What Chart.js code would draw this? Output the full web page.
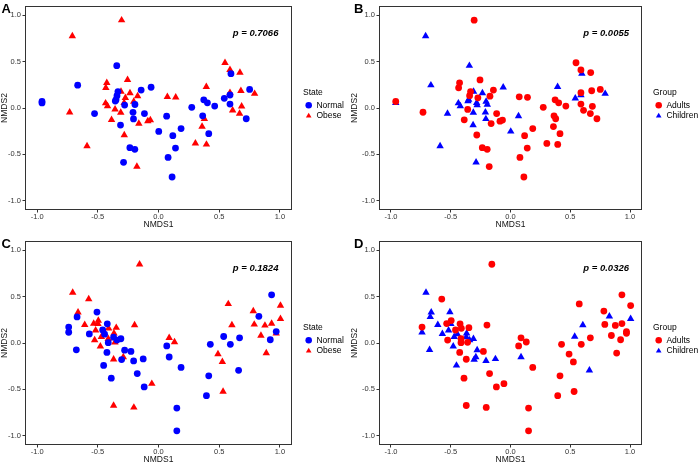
<!DOCTYPE html>
<html><head><meta charset="utf-8">
<script src="https://cdn.jsdelivr.net/npm/chart.js@4.4.1/dist/chart.umd.min.js"></script>
<style>
html,body{margin:0;padding:0;background:#fff;overflow:hidden;width:700px;height:464px;position:relative;}
canvas{position:absolute;}
</style></head><body>
<canvas id="cA" width="350" height="232" style="left:0;top:0"></canvas>
<canvas id="cB" width="350" height="232" style="left:350px;top:0"></canvas>
<canvas id="cC" width="350" height="232" style="left:0;top:235px"></canvas>
<canvas id="cD" width="350" height="232" style="left:350px;top:235px"></canvas>
<script>
// ---- Data: panels A/B share sample coordinates; C/D share sample coordinates ----
const nmds1_AB = [-0.96,-0.96,-0.666,-0.527,-0.344,-0.334,-0.342,-0.35,-0.356,-0.279,-0.313,-0.288,-0.236,-0.195,-0.21,-0.206,-0.194,-0.143,-0.061,-0.116,0.002,0.067,0.079,0.118,0.14,0.186,0.112,0.274,0.373,0.364,0.403,0.414,0.463,0.542,0.589,0.589,0.597,0.751,0.723,
  -0.71,-0.304,-0.732,-0.589,-0.426,-0.434,-0.436,-0.42,-0.358,-0.387,-0.309,-0.311,-0.255,-0.273,-0.283,-0.235,-0.204,-0.172,-0.282,-0.162,-0.088,-0.067,-0.178,0.073,0.142,0.304,0.394,0.378,0.359,0.395,0.548,0.589,0.671,0.679,0.589,0.611,0.685,0.668,0.792];
const nmds2_AB = [0.07,0.055,0.246,-0.06,0.456,0.177,0.133,0.09,0.075,0.032,-0.184,-0.586,-0.428,-0.446,-0.047,-0.118,0.038,0.193,0.224,-0.06,-0.253,-0.088,-0.533,-0.298,-0.432,-0.222,-0.744,0.007,0.088,-0.084,0.056,-0.277,0.021,0.104,0.14,0.042,0.37,0.2,-0.116,
  0.775,0.947,-0.046,-0.41,0.272,0.218,0.052,0.02,-0.015,-0.128,0.178,-0.05,0.303,0.11,0.055,0.16,0.07,0.128,-0.291,-0.168,-0.142,-0.13,-0.632,0.12,0.115,-0.382,0.228,-0.116,-0.2,-0.393,0.488,0.411,0.382,0.186,0.165,-0.025,0.018,-0.06,0.154];
const state_AB = 'NNNNNNNNNNNNNNNNNNNNNNNNNNNNNNNNNNNNNNN'.split('').concat('OOOOOOOOOOOOOOOOOOOOOOOOOOOOOOOOOOOOOOO'.split(''));
const group_AB = 'ACCCCAACCCCCAACCCACACCAAAAAAAAAAACCACAA'.split('').concat('CAACAACCAACCAACCCAAAAAAAAACAAAAAAAAAAAC'.split(''));

const nmds1_CD = [-0.74,-0.74,-0.671,-0.677,-0.507,-0.57,-0.422,-0.46,-0.444,-0.414,-0.425,-0.452,-0.389,-0.37,-0.342,-0.31,-0.304,-0.279,-0.227,-0.205,-0.175,-0.126,-0.118,0.068,0.088,0.186,0.151,0.151,0.395,0.414,0.427,0.537,0.592,0.668,0.66,0.827,0.932,0.921,0.97,
  -0.707,-0.663,-0.575,-0.608,-0.534,-0.496,-0.499,-0.518,-0.526,-0.479,-0.471,-0.411,-0.414,-0.348,-0.367,-0.359,-0.37,-0.29,-0.197,-0.156,-0.055,0.088,0.132,-0.37,-0.203,0.49,0.526,0.532,0.575,0.605,0.781,0.789,0.844,0.877,0.932,0.888,0.97,1.005,1.005];
const nmds2_CD = [0.172,0.116,0.281,-0.074,0.333,0.098,0.207,0.14,0.095,0.004,-0.102,-0.242,-0.379,0.063,0.032,0.046,-0.179,-0.077,-0.091,-0.193,-0.33,-0.172,-0.474,-0.032,-0.151,-0.263,-0.702,-0.947,-0.568,-0.354,-0.014,0.07,-0.014,0.056,-0.295,0.288,0.519,0.035,0.123,
  0.544,0.33,0.474,0.196,0.21,0.242,0.207,0.137,0.032,-0.035,0.067,0.158,0.046,0.165,0.105,0.007,-0.175,-0.151,0.193,0.849,-0.439,0.056,0.011,-0.674,-0.695,-0.119,-0.204,-0.523,0.421,0.193,0.344,0.2,0.081,0.189,0.21,-0.109,0.105,0.404,0.26];
const state_CD = 'NNNNNNNNNNNNNNNNNNNNNNNNNNNNNNNNNNNNNNN'.split('').concat('OOOOOOOOOOOOOOOOOOOOOOOOOOOOOOOOOOOOOOO'.split(''));
const group_CD = 'ACCCCCAACAACACCCCCACACAACAAAAAACAACCAAA'.split('').concat('CCACAACCACCAAACAACAAAAAAAAAAACAAAAAAAAC'.split(''));

const stateLevels = [{code:'N', label:'Normal'}, {code:'O', label:'Obese'}];
const groupLevels = [{code:'A', label:'Adults'}, {code:'C', label:'Children'}];
const tickValues = [-1, -0.5, 0, 0.5, 1];
const pValues = ['0.7066', '0.0055', '0.1824', '0.0326'];
const panelLetters = ['A', 'B', 'C', 'D'];

const FONT = "'Liberation Sans', Arial, Helvetica, sans-serif";
const BLUE = '#0000FF', RED = '#FF0000';

const decor = {
  id: 'decor',
  afterDraw(chart, args, o) {
    const {ctx, chartArea: a, scales: {x, y}} = chart;
    ctx.save();
    ctx.strokeStyle = '#333'; ctx.lineWidth = 1;
    const l = Math.round(a.left) + 0.5, t = Math.round(a.top) + 0.5;
    const r = Math.round(a.right) - 0.5, b = Math.round(a.bottom) - 0.5;
    ctx.strokeRect(l, t, r - l, b - t);
    ctx.fillStyle = '#000';
    ctx.font = 'italic bold 9.5px ' + FONT;
    ctx.textAlign = 'center'; ctx.textBaseline = 'middle';
    ctx.fillText('p = ' + o.p, x.getPixelForValue(0.8), y.getPixelForValue(0.8));
    ctx.font = 'bold 13px ' + FONT;
    ctx.textAlign = 'left'; ctx.textBaseline = 'alphabetic';
    ctx.fillText(o.letter, o.lx, 12.5);
    ctx.restore();
  }
};

function makeChart(id, xs, ys, codes, levels, styles, legendTitle, pIdx, yWidth, lx) {
  const datasets = levels.map((lv, k) => ({
    label: lv.label,
    data: xs.map((v, i) => ({x: v, y: ys[i], c: codes[i]})).filter(d => d.c === lv.code),
    pointStyle: styles[k].shape,
    pointRadius: styles[k].r,
    pointBackgroundColor: styles[k].color,
    pointBorderColor: styles[k].color,
    backgroundColor: styles[k].color,
    borderColor: styles[k].color,
    pointBorderWidth: 0,
    borderWidth: 0,
    showLine: false
  }));
  const axisCommon = {
    type: 'linear', min: -1.1, max: 1.1,
    afterBuildTicks: s => { s.ticks = tickValues.map(v => ({value: v})); },
    ticks: {font: {family: FONT, size: 7.5}, color: '#333', autoSkip: false, maxRotation: 0,
            callback: v => Number(v).toFixed(1)},
    grid: {display: true, drawOnChartArea: false, drawTicks: true, tickLength: 2.5, color: '#333', lineWidth: 1},
    border: {display: false}
  };
  return new Chart(document.getElementById(id), {
    type: 'scatter',
    data: {datasets},
    options: {
      responsive: false, animation: false, events: [],
      layout: {padding: {top: 1, left: 0, right: 0, bottom: 0}},
      scales: {
        x: Object.assign({}, axisCommon, {
          position: 'bottom',
          ticks: Object.assign({}, axisCommon.ticks, {padding: 0}),
          title: {display: true, text: 'NMDS1', font: {family: FONT, size: 8.5}, color: '#111', padding: {top: 0, bottom: 2.4}},
          afterFit: s => { s.height = 22; }
        }),
        y: Object.assign({}, axisCommon, {
          position: 'left',
          ticks: Object.assign({}, axisCommon.ticks, {padding: 1.5}),
          title: {display: true, text: 'NMDS2', font: {family: FONT, size: 8.5}, color: '#111', padding: {top: 0, bottom: 0}},
          afterFit: s => { s.width = yWidth; }
        }),
        gap: {type: 'linear', position: 'right', display: true,
              grid: {display: false}, border: {display: false}, ticks: {display: false},
              afterFit: s => { s.width = 11; }}
      },
      plugins: {
        tooltip: {enabled: false},
        legend: {
          display: true, position: 'right', align: 'start', maxWidth: 47,
          title: {display: true, text: legendTitle, position: 'start', color: '#000',
                  font: {family: FONT, size: 8.5}, padding: {top: 87, bottom: 0.6}},
          labels: {usePointStyle: true, boxWidth: 7, boxHeight: 4.6, padding: 2.2,
                   color: '#000', font: {family: FONT, size: 8.5}}
        },
        decor: {p: pValues[pIdx], letter: panelLetters[pIdx], lx: lx}
      }
    },
    plugins: [decor]
  });
}

const stStyles = [{shape: 'circle', r: 3.4, color: BLUE}, {shape: 'triangle', r: 4.3, color: RED}];
const grStyles = [{shape: 'circle', r: 3.4, color: RED}, {shape: 'triangle', r: 4.3, color: BLUE}];

makeChart('cA', nmds1_AB, nmds2_AB, state_AB, stateLevels, stStyles, 'State', 0, 25, 1.5);
makeChart('cB', nmds1_AB, nmds2_AB, group_AB, groupLevels, grStyles, 'Group', 1, 29, 4);
makeChart('cC', nmds1_CD, nmds2_CD, state_CD, stateLevels, stStyles, 'State', 2, 25, 1.5);
makeChart('cD', nmds1_CD, nmds2_CD, group_CD, groupLevels, grStyles, 'Group', 3, 29, 4);
</script>
</body></html>
